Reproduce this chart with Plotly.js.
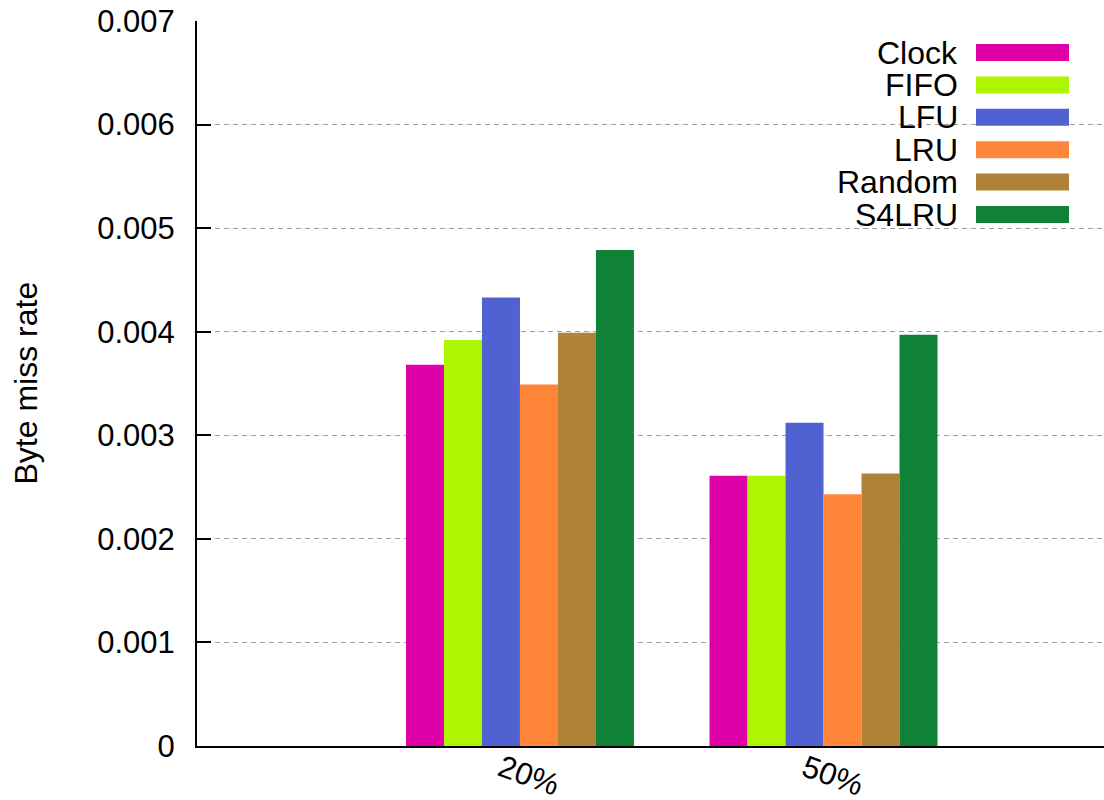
<!DOCTYPE html>
<html>
<head>
<meta charset="utf-8">
<script src="https://cdn.plot.ly/plotly-3.0.1.min.js"></script>
<style>html,body{margin:0;padding:0;background:#fff;}#chart{width:1104px;height:800px;}</style>
</head>
<body>
<div id="chart"></div>
<script>
// ---- data ----
var categories = ['20%', '50%'];
var seriesNames = ['Clock', 'FIFO', 'LFU', 'LRU', 'Random', 'S4LRU'];
var clockVals  = [0.00368, 0.00261];
var fifoVals   = [0.00392, 0.00261];
var lfuVals    = [0.00433, 0.00312];
var lruVals    = [0.00349, 0.00243];
var randomVals = [0.00399, 0.00263];
var s4lruVals  = [0.00479, 0.00397];
var yTickVals  = [0, 0.001, 0.002, 0.003, 0.004, 0.005, 0.006, 0.007];
var yTickText  = ['0', '0.001', '0.002', '0.003', '0.004', '0.005', '0.006', '0.007'];
var yTitle = 'Byte miss rate';

// ---- style ----
var colors = ['#e000a8', '#adf500', '#5062d2', '#ff8538', '#b08238', '#108238'];
var FONT = '"Liberation Sans", Arial, Helvetica, sans-serif';
var FS = 32;
var TFS = 31;
var allVals = [clockVals, fifoVals, lfuVals, lruVals, randomVals, s4lruVals];

var traces = seriesNames.map(function(name, i) {
  return {
    type: 'bar', name: name, x: categories, y: allVals[i],
    marker: {color: colors[i], line: {width: 0}},
    showlegend: false, hoverinfo: 'x+y+name'
  };
});

// custom legend (text left of swatch, as in gnuplot)
var W = 907, H = 725, L = 197, T = 21;
function px(x) { return (x - L) / W; }
function py(y) { return (T + H - y) / H; }
var shapes = [], annotations = [];
seriesNames.forEach(function(name, i) {
  var cy = 52.5 + i * 32.4;
  shapes.push({type: 'rect', xref: 'paper', yref: 'paper',
    x0: px(976), x1: px(1069), y0: py(cy - 8.5), y1: py(cy + 8.5),
    fillcolor: colors[i], line: {width: 0}, layer: 'above'});
  annotations.push({xref: 'paper', yref: 'paper', x: px(959), y: py(cy),
    xanchor: 'right', yanchor: 'middle', text: name, showarrow: false,
    borderpad: 0, font: {family: FONT, size: FS, color: '#000'}});
});
// rotated category labels
categories.forEach(function(c) {
  annotations.push({xref: 'x', yref: 'paper', x: c, y: 0, xshift: 9, yshift: -29,
    xanchor: 'center', yanchor: 'middle', textangle: 20, text: c,
    showarrow: false, borderpad: 0, font: {family: FONT, size: TFS, color: '#000'}});
});
annotations.push({xref: 'paper', yref: 'paper', x: 0, y: 0.5, xshift: -172,
  xanchor: 'center', yanchor: 'middle', textangle: -90, text: yTitle,
  showarrow: false, font: {family: FONT, size: FS, color: '#000'}});

var layout = {
  width: 1104, height: 800,
  margin: {l: L, r: 0, t: T, b: 800 - T - H, pad: 0},
  paper_bgcolor: '#fff', plot_bgcolor: '#fff',
  font: {family: FONT, size: FS, color: '#000'},
  barmode: 'group', bargap: 0.249, bargroupgap: 0,
  showlegend: false,
  xaxis: {
    type: 'category', range: [-1.064, 1.924],
    showline: true, linecolor: '#000', linewidth: 2,
    showgrid: false, zeroline: false,
    ticks: '', showticklabels: false
  },
  yaxis: {
    range: [0, 0.007], tickvals: yTickVals, ticktext: yTickText,
    showline: true, linecolor: '#000', linewidth: 2,
    ticks: 'inside', ticklen: 14, tickwidth: 2, tickcolor: '#000',
    showgrid: true, gridcolor: '#a0a0a0', gridwidth: 1, griddash: '5px,4px',
    zeroline: false, ticklabelstandoff: 14,
    tickfont: {family: FONT, size: TFS, color: '#000'}
  },
  shapes: shapes,
  annotations: annotations
};

Plotly.newPlot('chart', traces, layout, {displayModeBar: false, staticPlot: true});
</script>
</body>
</html>
